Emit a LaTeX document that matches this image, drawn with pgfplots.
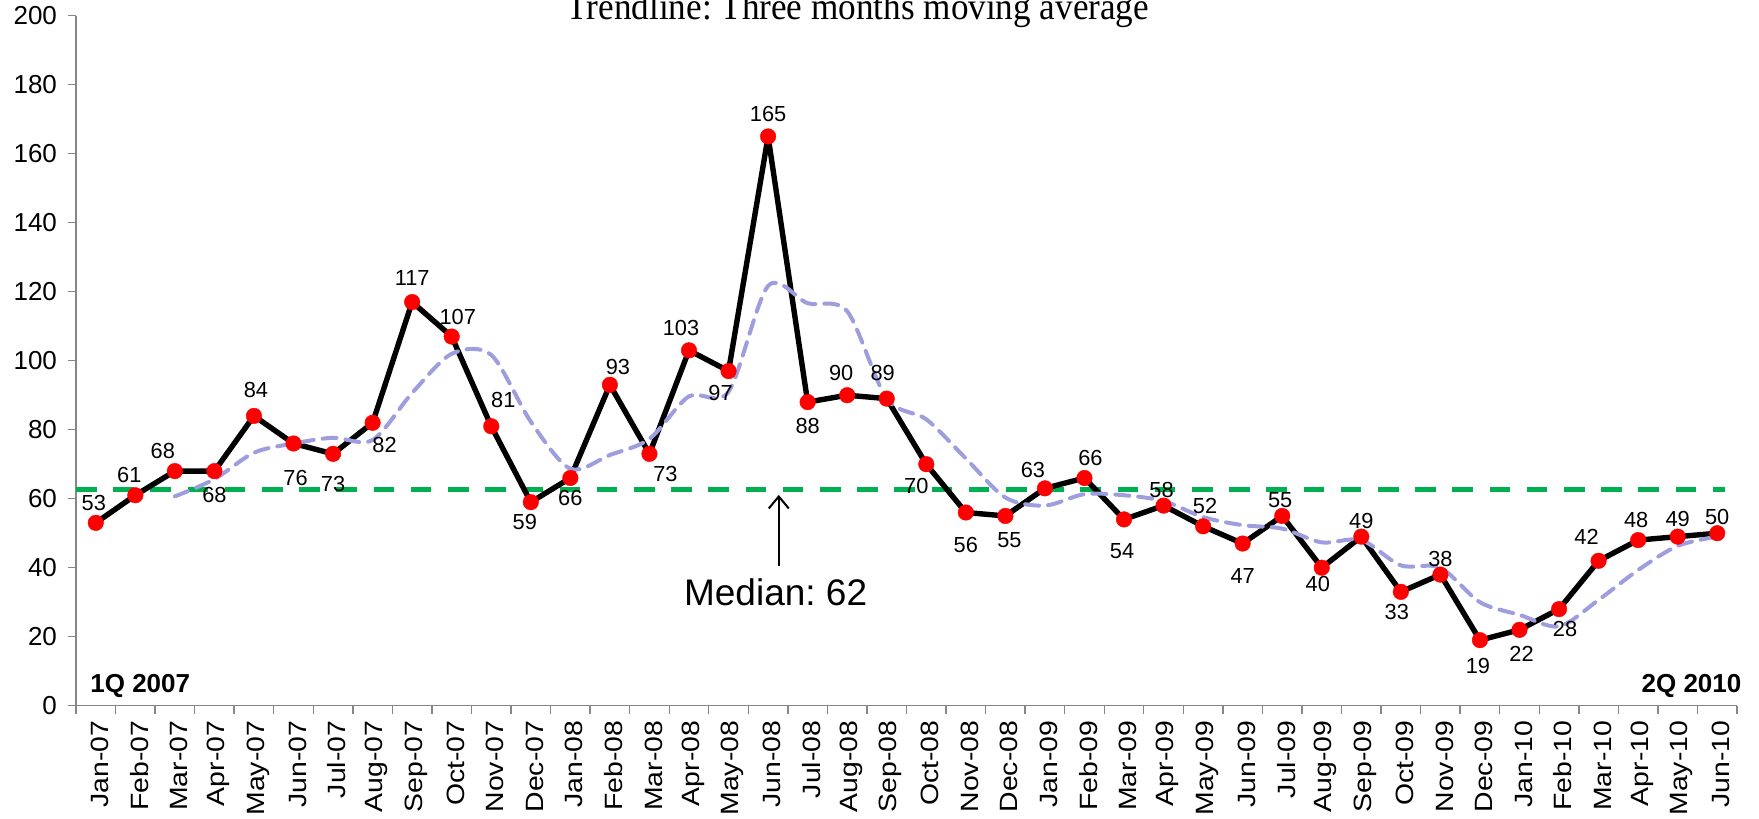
\documentclass[border=0pt]{standalone}
\usepackage{pgfplots}
\pgfplotsset{compat=1.18}
\usepackage{pgfplotstable}
\usepackage{fontspec}
\setmainfont{Liberation Sans}
\newfontfamily\titlefont{Liberation Serif}
\usetikzlibrary{arrows.meta}
\definecolor{axgray}{RGB}{134,134,134}
\definecolor{mgreen}{RGB}{0,176,80}
\definecolor{mavg}{RGB}{158,158,222}
\newcommand\xl[1]{\scalebox{1}[0.88]{#1}}
\frenchspacing

\pgfplotstableread{
x y dx dy
0 53 -1 10
1 61 -3 10
2 68 -6 10
3 68 0 -12
4 84 1 13
5 76 1 -17
6 73 0 -15
7 82 6 -11
8 117 0 12
9 107 3 10
10 81 6 13
11 59 -3 -10
12 66 0 -10
13 93 4 9
14 73 8 -10
15 103 -4 11
16 97 -4 -11
17 165 0 11
18 88 0 -12
19 90 -3 11
20 89 -2 13
21 70 -5 -11
22 56 0 -16
23 55 2 -12
24 63 -6 9
25 66 3 10
26 54 -1 -16
27 58 -1 8
28 52 1 10
29 47 0 -16
30 55 -1 8
31 40 -2 -8
32 49 0 8
33 33 -2 -10
34 38 0 8
35 19 -1 -13
36 22 1 -12
37 28 3 -10
38 42 -6 12
39 48 -1 10
40 49 0 9
41 50 0 8
}\datatable

\pgfplotstableread{
x y
2 60.67
3 65.67
4 73.33
5 76.00
6 77.67
7 77.00
8 90.67
9 102.00
10 101.67
11 82.33
12 68.67
13 72.67
14 77.33
15 89.67
16 91.00
17 121.67
18 116.67
19 114.33
20 89.00
21 83.00
22 71.67
23 60.33
24 58.00
25 61.33
26 61.00
27 59.33
28 54.67
29 52.33
30 51.33
31 47.33
32 48.00
33 40.67
34 40.00
35 30.00
36 26.33
37 23.00
38 30.67
39 39.33
40 46.33
41 49.00
}\avgtable

\pgfkeys{/pgf/number format/assume math mode=true}

\begin{document}
\begin{tikzpicture}
\begin{axis}[
  scale only axis,
  width=830.5pt, height=345pt,
  xmin=-0.5, xmax=41.5, ymin=0, ymax=200,
  axis x line*=bottom, axis y line*=left,
  axis line style={axgray, line width=0.7pt},
  tick style={axgray, line width=0.7pt},
  tick align=outside,
  major tick length=4pt,
  ytick={0,20,...,200},
  yticklabel style={font=\fontsize{13}{15}\selectfont, xshift=-2pt},
  xtick={-0.5,0.5,...,41.5},
  x tick label as interval=true,
  xticklabels={\xl{Jan-07},\xl{Feb-07},\xl{Mar-07},\xl{Apr-07},\xl{May-07},\xl{Jun-07},\xl{Jul-07},\xl{Aug-07},\xl{Sep-07},\xl{Oct-07},\xl{Nov-07},\xl{Dec-07},
    \xl{Jan-08},\xl{Feb-08},\xl{Mar-08},\xl{Apr-08},\xl{May-08},\xl{Jun-08},\xl{Jul-08},\xl{Aug-08},\xl{Sep-08},\xl{Oct-08},\xl{Nov-08},\xl{Dec-08},
    \xl{Jan-09},\xl{Feb-09},\xl{Mar-09},\xl{Apr-09},\xl{May-09},\xl{Jun-09},\xl{Jul-09},\xl{Aug-09},\xl{Sep-09},\xl{Oct-09},\xl{Nov-09},\xl{Dec-09},
    \xl{Jan-10},\xl{Feb-10},\xl{Mar-10},\xl{Apr-10},\xl{May-10},\xl{Jun-10}},
  xticklabel style={rotate=90, anchor=east, font=\fontsize{14.2}{16}\selectfont, yshift=-2pt},
  clip=false,
]
% median line
\addplot[mgreen, line width=2.5pt, dash pattern=on 10.3pt off 8.3pt] coordinates {(-0.5,62.8) (41.2,62.8)};
% main series
\addplot[black, line width=2.7pt, line join=round,
  mark=*, mark size=3.9pt, mark options={draw=red, fill=red, line width=0.2pt, solid},
  nodes near coords,
  visualization depends on={\thisrow{dx} \as \dx},
  visualization depends on={\thisrow{dy} \as \dy},
  every node near coord/.append style={anchor=center, xshift=\dx pt, yshift=\dy pt,
     font=\fontsize{10.9}{12}\selectfont, text=black, inner sep=0pt}]
  table[x=x, y=y] {\datatable};
% moving average
\addplot[mavg, line width=2pt, dash pattern=on 7pt off 4.5pt, line cap=round, smooth, tension=0.5]
  table[x=x, y=y] {\avgtable};
% annotations
\draw[black, line width=1pt, -{Straight Barb[length=6pt, width=10pt, line width=1pt]}] (axis cs:17.27,40.5) -- (axis cs:17.27,61.1);
\node[font=\fontsize{18.5}{20}\selectfont, anchor=center] at (axis cs:17.19,33) {Median: 62};
\node[font=\fontsize{13}{15}\selectfont\bfseries, anchor=west, inner sep=0pt] at (axis cs:-0.146,5.7) {1Q 2007};
\node[font=\fontsize{13}{15}\selectfont\bfseries, anchor=east, inner sep=0pt] at (axis cs:41.62,5.7) {2Q 2010};
\node[font=\titlefont\fontsize{19}{21}\selectfont, anchor=base, inner sep=0pt, xscale=0.925] at (axis cs:19.27,199.04) {Trendline: Three months moving average};
\end{axis}
\pgfresetboundingbox
\path[use as bounding box] ([xshift=-38pt, yshift=-56.2pt]current axis.south west) rectangle ([xshift=11pt, yshift=7.85pt]current axis.north east);
\end{tikzpicture}
\end{document}
